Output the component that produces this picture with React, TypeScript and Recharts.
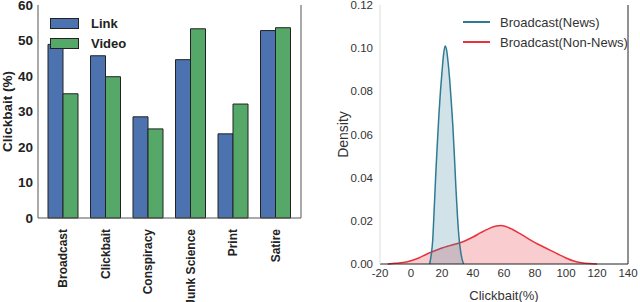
import React from "react";
import {
  Area,
  AreaChart,
  Bar,
  BarChart,
  Legend,
  XAxis,
  YAxis
} from "recharts";

// left panel: clickbait share by source type
const categories = ["Broadcast", "Clickbait", "Conspiracy", "Junk Science", "Print", "Satire"];
const linkValues = [48.9, 45.7, 28.5, 44.6, 23.7, 52.8];
const videoValues = [35.0, 39.8, 25.1, 53.3, 32.1, 53.6];
const barTicks = [0, 10, 20, 30, 40, 50, 60];

// right panel: density estimates of clickbait(%)
const newsX = [12, 13, 14, 15, 16, 17, 18, 19, 20, 21, 22, 23, 24, 25, 26, 27, 28, 29, 30, 31, 32, 33, 34];
const newsY = [0, 0.004, 0.011, 0.026, 0.042, 0.056, 0.069, 0.08, 0.089, 0.097, 0.101, 0.099, 0.093, 0.085, 0.075, 0.064, 0.05, 0.035, 0.022, 0.012, 0.006, 0.002, 0];
const nonNewsX = [-15, -10, -5, 0, 5, 10, 15, 20, 25, 30, 35, 40, 45, 50, 55, 58, 60, 65, 70, 75, 80, 85, 90, 95, 100, 105, 110, 115, 120];
const nonNewsY = [0, 0.0003, 0.0007, 0.0015, 0.0028, 0.0045, 0.006, 0.0074, 0.0085, 0.0095, 0.0108, 0.0125, 0.0145, 0.0163, 0.0176, 0.0178, 0.0176, 0.0162, 0.0142, 0.012, 0.0099, 0.0081, 0.0063, 0.0045, 0.0028, 0.0014, 0.0006, 0.0002, 0];
const densityXTicks = [-20, 0, 20, 40, 60, 80, 100, 120, 140];
const densityYTicks = [0, 0.02, 0.04, 0.06, 0.08, 0.1, 0.12];

const barData = categories.map((name, i) => ({ name, link: linkValues[i], video: videoValues[i] }));

const densityData = (() => {
  const rows: Record<number, { x: number; news: number | null; nonNews: number | null }> = {};
  const row = (x: number) => (rows[x] ??= { x, news: null, nonNews: null });
  newsX.forEach((x, i) => (row(x).news = newsY[i]));
  nonNewsX.forEach((x, i) => (row(x).nonNews = nonNewsY[i]));
  return Object.values(rows).sort((a, b) => a.x - b.x);
})();

const BLUE = "#4C72B0";
const GREEN = "#55A868";
const TEAL = "#2f7b94";
const RED = "#e8333f";

const boldFont = { fontFamily: "Liberation Sans, Arial, sans-serif", fontWeight: 700 };
const plainFont = { fontFamily: "Liberation Sans, Arial, sans-serif" };

function RotatedTick(props: any) {
  const { x, y, payload } = props;
  return (
    <g transform={`translate(${x},${y + 3})`}>
      <text transform="rotate(-90)" textAnchor="end" dy="0.35em" fontSize={12} fill="#222" style={boldFont}>
        {payload.value}
      </text>
    </g>
  );
}

function BarLegend() {
  const items = [
    { label: "Link", color: BLUE },
    { label: "Video", color: GREEN }
  ];
  return (
    <div>
      {items.map((it) => (
        <div key={it.label} style={{ display: "flex", alignItems: "center", height: 20 }}>
          <div style={{ width: 27, height: 9, background: it.color, border: "1px solid #222" }} />
          <span style={{ ...boldFont, fontSize: 13, color: "#222", marginLeft: 12 }}>{it.label}</span>
        </div>
      ))}
    </div>
  );
}

function DensityLegend() {
  const items = [
    { label: "Broadcast(News)", color: TEAL },
    { label: "Broadcast(Non-News)", color: RED }
  ];
  return (
    <div>
      {items.map((it) => (
        <div key={it.label} style={{ display: "flex", alignItems: "center", height: 20 }}>
          <div style={{ width: 27, height: 2, background: it.color }} />
          <span style={{ ...plainFont, fontSize: 13, color: "#333", marginLeft: 10 }}>{it.label}</span>
        </div>
      ))}
    </div>
  );
}

export default function App() {
  return (
    <div style={{ position: "absolute", left: 0, top: 0, width: 640, height: 302, background: "#fff", overflow: "hidden" }}>
      <div style={{ position: "absolute", left: 0, top: 0 }}>
        <BarChart
          width={320}
          height={302}
          data={barData}
          margin={{ top: 5, right: 18, bottom: 0, left: 0 }}
          barGap={0}
          barSize={15}
        >
          <XAxis
            dataKey="name"
            height={84}
            interval={0}
            padding={{ left: 4, right: 4 }}
            axisLine={{ stroke: "#555" }}
            tickLine={false}
            tick={<RotatedTick />}
          />
          <XAxis xAxisId="top" dataKey="name" orientation="top" height={0} tick={false} tickLine={false} axisLine={{ stroke: "#555" }} />
          <YAxis
            width={38}
            domain={[0, 60]}
            ticks={barTicks}
            interval={0}
            tickLine={false}
            tickSize={0}
            tickMargin={5}
            axisLine={{ stroke: "#555" }}
            tick={{ fontSize: 13.5, fill: "#222", ...boldFont }}
            label={{ value: "Clickbait (%)", angle: -90, position: "center", dx: -12, fontSize: 13.5, fill: "#222", style: boldFont }}
          />
          <YAxis yAxisId="right" orientation="right" width={1} tick={false} tickLine={false} axisLine={{ stroke: "#555" }} />
          <Legend layout="horizontal" verticalAlign="middle" align="center" content={<BarLegend />} wrapperStyle={{ left: 50, top: 13, width: 120 }} />
          <Bar dataKey="link" fill={BLUE} stroke="#222" strokeWidth={1} isAnimationActive={false} />
          <Bar dataKey="video" fill={GREEN} stroke="#222" strokeWidth={1} isAnimationActive={false} />
        </BarChart>
      </div>
      <div style={{ position: "absolute", left: 320, top: 0 }}>
        <AreaChart width={320} height={302} data={densityData} margin={{ top: 5, right: 11, bottom: 0, left: 0 }}>
          <XAxis
            dataKey="x"
            type="number"
            domain={[-20, 140]}
            ticks={densityXTicks}
            interval={0}
            height={38}
            tickLine={false}
            tickSize={0}
            tickMargin={5}
            axisLine={{ stroke: "#222" }}
            tick={{ fontSize: 11.5, fill: "#333", ...plainFont }}
            label={{ value: "Clickbait(%)", position: "insideBottom", offset: 2, fontSize: 13, fill: "#333", style: plainFont }}
          />
          <XAxis xAxisId="top" dataKey="x" type="number" domain={[-20, 140]} orientation="top" height={0} tick={false} tickLine={false} axisLine={{ stroke: "#ddd" }} />
          <YAxis
            width={60}
            domain={[0, 0.12]}
            ticks={densityYTicks}
            interval={0}
            tickLine={false}
            tickSize={0}
            tickMargin={7}
            axisLine={{ stroke: "#ddd" }}
            tickFormatter={(v: number) => v.toFixed(2)}
            tick={{ fontSize: 11.5, fill: "#333", ...plainFont }}
            label={{ value: "Density", angle: -90, position: "center", dx: -7, fontSize: 14, fill: "#333", style: plainFont }}
          />
          <YAxis yAxisId="right" orientation="right" width={1} domain={[0, 0.12]} tick={false} tickLine={false} axisLine={{ stroke: "#222" }} />
          <Legend layout="horizontal" verticalAlign="middle" align="center" content={<DensityLegend />} wrapperStyle={{ left: 143, top: 12, width: 180 }} />
          <Area
            type="monotone"
            dataKey="nonNews"
            stroke={RED}
            strokeWidth={1.5}
            fill={RED}
            fillOpacity={0.25}
            connectNulls
            dot={false}
            activeDot={false}
            isAnimationActive={false}
          />
          <Area
            type="monotone"
            dataKey="news"
            stroke={TEAL}
            strokeWidth={1.5}
            fill={TEAL}
            fillOpacity={0.22}
            connectNulls
            dot={false}
            activeDot={false}
            isAnimationActive={false}
          />
        </AreaChart>
      </div>
    </div>
  );
}
